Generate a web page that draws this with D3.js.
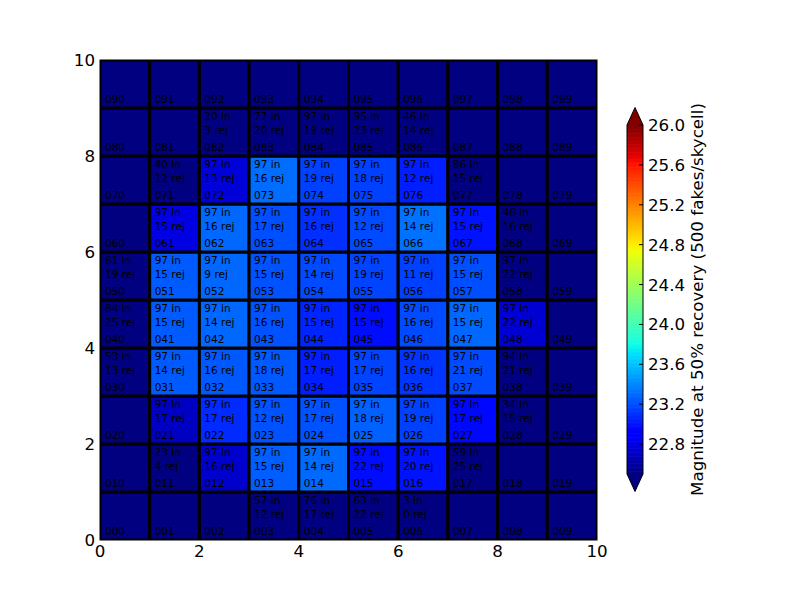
<!DOCTYPE html>
<html>
<head>
<meta charset="utf-8">
<script src="https://cdn.jsdelivr.net/npm/d3@7"></script>
<style>
  html, body { margin: 0; padding: 0; background: #ffffff; }
  svg { display: block; font-family: "DejaVu Sans", sans-serif; }
</style>
</head>
<body>
<svg id="chart" width="800" height="600"></svg>
<script>
// ---- data (row 0 = cells 000-009, row 9 = cells 090-099) ----
const nCols = 10;
const nRows = 10;
const nIn = [
  null, null, null, 57, 76, 63, 3, null, null, null,
  null, 23, 97, 97, 97, 97, 97, 59, null, null,
  null, 97, 97, 97, 97, 97, 97, 97, 34, null,
  53, 97, 97, 97, 97, 97, 97, 97, 94, null,
  84, 97, 97, 97, 97, 97, 97, 97, 97, null,
  61, 97, 97, 97, 97, 97, 97, 97, 97, null,
  null, 97, 97, 97, 97, 97, 97, 97, 46, null,
  null, 40, 97, 97, 97, 97, 97, 86, null, null,
  null, null, 20, 77, 97, 95, 46, null, null, null,
  null, null, null, null, null, null, null, null, null, null
];
const nRej = [
  null, null, null, 12, 17, 22, 0, null, null, null,
  null, 4, 16, 15, 14, 22, 20, 25, null, null,
  null, 17, 17, 12, 17, 18, 19, 17, 15, null,
  13, 14, 16, 18, 17, 17, 16, 21, 21, null,
  25, 15, 14, 16, 15, 15, 16, 15, 22, null,
  19, 15, 9, 15, 14, 19, 11, 15, 22, null,
  null, 15, 16, 17, 16, 12, 14, 15, 16, null,
  null, 12, 13, 16, 19, 18, 12, 15, null, null,
  null, null, 3, 20, 19, 23, 14, null, null, null,
  null, null, null, null, null, null, null, null, null, null
];
const mag = [
  null, null, null, 22.2, 22.3, 22.3, 21.5, null, null, null,
  null, 22.1, 22.73, 23.26, 23.30, 22.98, 23.00, 22.4, null, null,
  null, 22.70, 23.08, 23.22, 23.22, 23.27, 23.16, 22.96, 22.2, null,
  22.3, 23.25, 23.24, 23.24, 23.04, 23.17, 23.12, 23.19, 22.4, null,
  22.4, 23.25, 23.29, 23.22, 23.06, 22.98, 23.19, 23.29, 22.75, null,
  22.3, 23.25, 23.29, 23.22, 23.19, 23.17, 23.16, 23.21, 22.45, null,
  null, 22.80, 23.29, 23.21, 23.10, 23.19, 23.33, 23.00, 22.3, null,
  null, 22.2, 22.77, 23.31, 23.16, 23.16, 23.04, 22.4, null, null,
  null, null, 22.0, 22.3, 22.45, 22.4, 22.2, null, null, null,
  null, null, null, null, null, null, null, null, null, null
];
const xTicks = [0, 2, 4, 6, 8, 10];
const yTicks = [0, 2, 4, 6, 8, 10];
const cbTicks = [22.8, 23.2, 23.6, 24.0, 24.4, 24.8, 25.2, 25.6, 26.0];
const magDomain = [22.5, 26.0];
const cbLabel = "Magnitude at 50% recovery (500 fakes/skycell)";

// ---- jet colormap (matplotlib segment data) ----
const jetR = [[0, 0], [0.35, 0], [0.66, 1], [0.89, 1], [1, 0.5]];
const jetG = [[0, 0], [0.125, 0], [0.375, 1], [0.64, 1], [0.91, 0], [1, 0]];
const jetB = [[0, 0.5], [0.11, 1], [0.34, 1], [0.65, 0], [1, 0]];
function seg(s, t) {
  for (let i = 1; i < s.length; i++) {
    if (t <= s[i][0]) {
      const f = (t - s[i - 1][0]) / (s[i][0] - s[i - 1][0]);
      return s[i - 1][1] + f * (s[i][1] - s[i - 1][1]);
    }
  }
  return s[s.length - 1][1];
}
function jet(t) {
  t = Math.max(0, Math.min(1, t));
  return d3.rgb(seg(jetR, t) * 255, seg(jetG, t) * 255, seg(jetB, t) * 255).toString();
}
const norm = d3.scaleLinear().domain(magDomain).range([0, 1]).clamp(true);
const colorOf = v => (v == null ? jet(0) : jet(norm(v)));

// ---- layout ----
const svg = d3.select("#chart");
const x = d3.scaleLinear().domain([0, nCols]).range([100, 597]);
const y = d3.scaleLinear().domain([0, nRows]).range([540, 60]);

svg.append("defs").append("clipPath").attr("id", "plotclip")
  .append("rect").attr("x", 100).attr("y", 60).attr("width", 497).attr("height", 480);

const cells = d3.range(nCols * nRows).map(i => ({
  id: i, col: i % nCols, row: Math.floor(i / nCols),
  nIn: nIn[i], nRej: nRej[i], mag: mag[i]
}));

const g = svg.append("g").attr("clip-path", "url(#plotclip)");
g.selectAll("rect.cell").data(cells).enter().append("rect")
  .attr("class", "cell")
  .attr("x", d => x(d.col))
  .attr("y", d => y(d.row + 1))
  .attr("width", d => x(d.col + 1) - x(d.col))
  .attr("height", d => y(d.row) - y(d.row + 1))
  .attr("fill", d => colorOf(d.mag))
  .attr("stroke", "#000").attr("stroke-width", 3);

const fs = 10.5;
const tg = svg.append("g").attr("font-size", fs).attr("fill", "#000");
tg.selectAll("text.id").data(cells).enter().append("text")
  .attr("x", d => x(d.col + 0.1))
  .attr("y", d => y(d.row + 0.1))
  .text(d => String(d.id).padStart(3, "0"));
const withData = cells.filter(d => d.nIn != null);
tg.selectAll("text.nin").data(withData).enter().append("text")
  .attr("x", d => x(d.col + 0.1))
  .attr("y", d => y(d.row + 0.75))
  .text(d => d.nIn + " in");
tg.selectAll("text.nrej").data(withData).enter().append("text")
  .attr("x", d => x(d.col + 0.1))
  .attr("y", d => y(d.row + 0.45))
  .text(d => d.nRej + " rej");

// frame
svg.append("rect").attr("x", 100).attr("y", 60).attr("width", 497).attr("height", 480)
  .attr("fill", "none").attr("stroke", "#000").attr("stroke-width", 1);

// axes labels
const axFont = 16.7;
svg.append("g").selectAll("text").data(xTicks).enter().append("text")
  .attr("x", d => x(d)).attr("y", 557).attr("text-anchor", "middle")
  .attr("font-size", axFont).text(d => d);
svg.append("g").selectAll("text").data(yTicks).enter().append("text")
  .attr("x", 95).attr("y", d => y(d) + 6).attr("text-anchor", "end")
  .attr("font-size", axFont).text(d => d);

// ---- colorbar ----
const cbX = 627, cbW = 16;
const cb = d3.scaleLinear().domain(magDomain).range([474, 125]);
const cbTop = cb(magDomain[1]), cbBot = cb(magDomain[0]);
const tipLen = (cbBot - cbTop) * 0.05;
const cbg = svg.append("g");
const steps = d3.range(0, 256);
cbg.selectAll("rect").data(steps).enter().append("rect")
  .attr("x", cbX).attr("width", cbW)
  .attr("y", i => cbBot - (i + 1) / 256 * (cbBot - cbTop))
  .attr("height", (cbBot - cbTop) / 256 + 0.6)
  .attr("fill", i => jet((i + 0.5) / 256));
cbg.append("path")
  .attr("d", `M${cbX},${cbTop} L${cbX + cbW / 2},${cbTop - tipLen} L${cbX + cbW},${cbTop} Z`)
  .attr("fill", jet(1));
cbg.append("path")
  .attr("d", `M${cbX},${cbBot} L${cbX + cbW / 2},${cbBot + tipLen} L${cbX + cbW},${cbBot} Z`)
  .attr("fill", jet(0));
cbg.append("path")
  .attr("d", `M${cbX},${cbTop} L${cbX + cbW / 2},${cbTop - tipLen} L${cbX + cbW},${cbTop} L${cbX + cbW},${cbBot} L${cbX + cbW / 2},${cbBot + tipLen} L${cbX},${cbBot} Z`)
  .attr("fill", "none").attr("stroke", "#000").attr("stroke-width", 1);
cbg.selectAll("line.tick").data(cbTicks).enter().append("line")
  .attr("x1", cbX + cbW - 4).attr("x2", cbX + cbW)
  .attr("y1", d => cb(d)).attr("y2", d => cb(d))
  .attr("stroke", "#000").attr("stroke-width", 1);
cbg.selectAll("text").data(cbTicks).enter().append("text")
  .attr("x", 648).attr("y", d => cb(d) + 6)
  .attr("font-size", axFont).text(d => d.toFixed(1));
svg.append("text")
  .attr("transform", `translate(703,${(cbTop + cbBot) / 2}) rotate(-90)`)
  .attr("text-anchor", "middle").attr("font-size", axFont)
  .text(cbLabel);
</script>
</body>
</html>
